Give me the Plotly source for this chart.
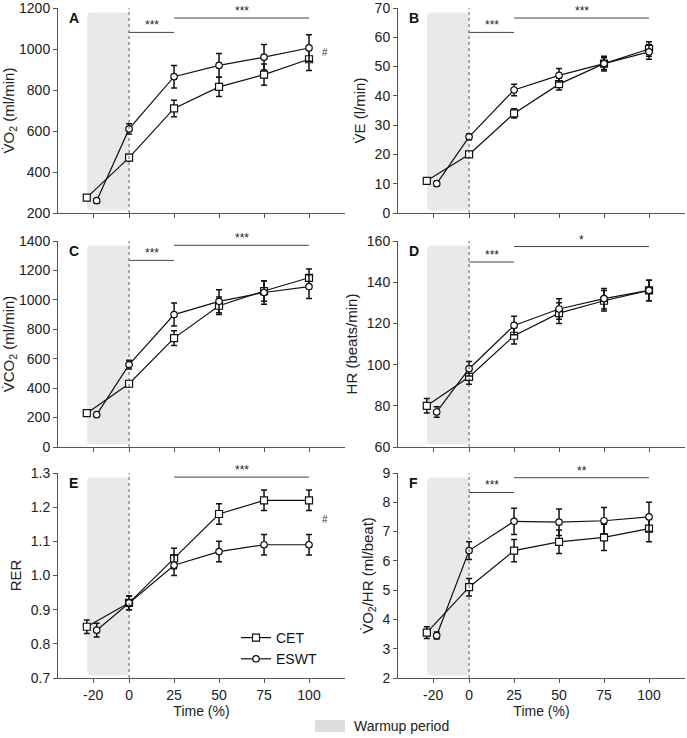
import plotly.graph_objects as go

# ---------------- data ----------------
x_cet = [-23.5, 0, 25, 50, 75, 100]
x_eswt = [-18, 0, 25, 50, 75, 100]
tick_vals = [-20, 0, 25, 50, 75, 100]
tick_text = ["-20", "0", "25", "50", "75", "100"]

vo2_cet = [275, 470, 710, 815, 875, 950]
vo2_cet_err = [12, 15, 40, 47, 52, 55]
vo2_eswt = [260, 610, 865, 920, 960, 1005]
vo2_eswt_err = [10, 25, 55, 58, 62, 65]

ve_cet = [11, 20, 34, 44, 51, 56]
ve_cet_err = [0.6, 0.8, 1.6, 2.0, 2.5, 2.5]
ve_eswt = [10, 26, 42, 47, 51, 55]
ve_eswt_err = [0.5, 1.0, 2.0, 2.3, 2.0, 2.5]

vco2_cet = [230, 430, 740, 960, 1060, 1150]
vco2_cet_err = [10, 20, 50, 60, 70, 60]
vco2_eswt = [220, 560, 900, 990, 1050, 1090]
vco2_eswt_err = [10, 30, 78, 78, 80, 80]

hr_cet = [80, 94, 114, 125, 131, 136]
hr_cet_err = [3.5, 3.5, 4.0, 5.0, 5.0, 5.0]
hr_eswt = [77, 98, 119, 127, 132, 136]
hr_eswt_err = [2.5, 3.5, 4.5, 5.0, 5.0, 5.0]

rer_cet = [0.85, 0.92, 1.05, 1.18, 1.22, 1.22]
rer_cet_err = [0.02, 0.02, 0.03, 0.03, 0.03, 0.03]
rer_eswt = [0.84, 0.92, 1.03, 1.07, 1.09, 1.09]
rer_eswt_err = [0.02, 0.02, 0.03, 0.03, 0.03, 0.03]

o2p_cet = [3.55, 5.1, 6.35, 6.65, 6.8, 7.1]
o2p_cet_err = [0.2, 0.3, 0.38, 0.4, 0.45, 0.45]
o2p_eswt = [3.45, 6.35, 7.35, 7.32, 7.37, 7.5]
o2p_eswt_err = [0.12, 0.3, 0.45, 0.45, 0.45, 0.5]

panel_letters = ["A", "B", "C", "D", "E", "F"]
y_titles = ["V\u0307O<sub>2</sub> (ml/min)", "V\u0307E (l/min)",
            "V\u0307CO<sub>2</sub> (ml/min)", "HR (beats/min)",
            "RER", "V\u0307O<sub>2</sub>/HR (ml/beat)"]
y_ranges = [(200, 1200), (0, 70), (0, 1400), (60, 160), (0.7, 1.3), (2, 9)]
y_dticks = [200, 10, 200, 20, 0.1, 1]
cet_series = [vo2_cet, ve_cet, vco2_cet, hr_cet, rer_cet, o2p_cet]
cet_errors = [vo2_cet_err, ve_cet_err, vco2_cet_err, hr_cet_err, rer_cet_err, o2p_cet_err]
eswt_series = [vo2_eswt, ve_eswt, vco2_eswt, hr_eswt, rer_eswt, o2p_eswt]
eswt_errors = [vo2_eswt_err, ve_eswt_err, vco2_eswt_err, hr_eswt_err, rer_eswt_err, o2p_eswt_err]
sig_short = ["***", "***", "***", "***", None, "***"]
sig_long = ["***", "***", "***", "*", "***", "**"]
sig_short_y = [0.881, 0.881, 0.906, 0.898, None, 0.905]
sig_long_y = [0.951, 0.951, 0.979, 0.973, 0.98, 0.977]
hash_marks = [(106, 985), None, None, None, (106, 1.165), None]

# ---------------- layout geometry ----------------
W, H = 687, 738
col_px = [(58, 345), (398, 685)]
row_px = [(8, 213), (241, 447), (473, 678)]
x_range = [-39.5, 120]
FONT = "Liberation Sans, Arial, sans-serif"
AX = "#555555"

fig = go.Figure()
layout = dict(width=W, height=H, margin=dict(l=0, r=0, t=0, b=0, autoexpand=False),
              paper_bgcolor="white", plot_bgcolor="white",
              font=dict(family=FONT, size=14, color="#222"),
              shapes=[], annotations=[])


def rounded_path(x0, x1, y0, y1, rx, ry):
    return (f"M {x0+rx},{y0} L {x1-rx},{y0} Q {x1},{y0} {x1},{y0+ry} "
            f"L {x1},{y1-ry} Q {x1},{y1} {x1-rx},{y1} L {x0+rx},{y1} "
            f"Q {x0},{y1} {x0},{y1-ry} L {x0},{y0+ry} Q {x0},{y0} {x0+rx},{y0} Z")


for i in range(6):
    r, c = divmod(i, 2)
    n = i + 1
    xa = "xaxis" if n == 1 else f"xaxis{n}"
    ya = "yaxis" if n == 1 else f"yaxis{n}"
    xr = "x" if n == 1 else f"x{n}"
    yr = "y" if n == 1 else f"y{n}"
    cx0, cx1 = col_px[c]
    ry0, ry1 = row_px[r]
    bottom = r == 2
    xdef = dict(domain=[cx0 / W, cx1 / W], anchor=yr, range=x_range,
                tickvals=tick_vals, ticktext=tick_text, automargin=False,
                ticklabeloverflow="allow",
                showticklabels=bottom, showline=True, linecolor=AX,
                linewidth=1, ticks="outside", ticklen=4, tickcolor=AX,
                showgrid=False, zeroline=False,
                tickfont=dict(size=14, color="#222"))
    if bottom:
        xdef["title"] = dict(text="Time (%)", font=dict(size=14), standoff=3)
    layout[xa] = xdef
    ylo, yhi = y_ranges[i]
    layout[ya] = dict(domain=[1 - ry1 / H, 1 - ry0 / H], anchor=xr,
                      range=[ylo, yhi], dtick=y_dticks[i], tick0=ylo,
                      automargin=False, ticklabeloverflow="allow",
                      showline=True, linecolor=AX, linewidth=1,
                      ticks="outside", ticklen=4, tickcolor=AX,
                      showgrid=False, zeroline=False,
                      tickformat=".1f" if i == 4 else "d",
                      tickfont=dict(size=14, color="#222"),
                      title=dict(text=y_titles[i], font=dict(size=15), standoff=5))

    span = yhi - ylo
    layout["shapes"].append(dict(
        type="path", xref=xr, yref=yr, layer="below", line=dict(width=0),
        fillcolor="#e9e9e9",
        path=rounded_path(-23.3, 0, ylo + 0.012 * span, ylo + 0.978 * span,
                          2.2, 0.02 * span)))
    layout["shapes"].append(dict(type="line", xref=xr, yref=f"{yr} domain",
                                 x0=0, x1=0, y0=0, y1=1,
                                 line=dict(color="#333", width=0.8, dash="dot")))
    if sig_short[i]:
        yy = sig_short_y[i]
        layout["shapes"].append(dict(type="line", xref=xr, yref=f"{yr} domain",
                                     x0=0, x1=25, y0=yy, y1=yy,
                                     line=dict(color="#444", width=1)))
        layout["annotations"].append(dict(x=12.5, y=yy, xref=xr, yref=f"{yr} domain",
                                          text=sig_short[i], showarrow=False,
                                          yanchor="bottom", yshift=-2,
                                          font=dict(size=12, color="#222")))
    yy = sig_long_y[i]
    layout["shapes"].append(dict(type="line", xref=xr, yref=f"{yr} domain",
                                 x0=25, x1=100, y0=yy, y1=yy,
                                 line=dict(color="#444", width=1)))
    layout["annotations"].append(dict(x=62.5, y=yy, xref=xr, yref=f"{yr} domain",
                                      text=sig_long[i], showarrow=False,
                                      yanchor="bottom", yshift=-2,
                                      font=dict(size=12, color="#222")))
    layout["annotations"].append(dict(x=0.033, y=1.0, xref=f"{xr} domain",
                                      yref=f"{yr} domain", text=f"<b>{panel_letters[i]}</b>",
                                      showarrow=False, xanchor="left", yanchor="top",
                                      font=dict(size=14, color="#111")))
    if hash_marks[i]:
        hx, hy = hash_marks[i]
        layout["annotations"].append(dict(x=hx, y=hy, xref=xr, yref=yr, text="#",
                                          showarrow=False, xanchor="left",
                                          font=dict(size=10, color="#333")))

    fig.add_trace(go.Scatter(
        x=x_cet, y=cet_series[i], xaxis=xr, yaxis=yr, name="CET",
        mode="lines+markers", showlegend=(i == 4), legendrank=1,
        line=dict(color="#111", width=1.2),
        marker=dict(symbol="square", size=7, color="white",
                    line=dict(color="#111", width=1.2)),
        error_y=dict(type="data", array=cet_errors[i], color="#111",
                     thickness=1.5, width=3)))
    fig.add_trace(go.Scatter(
        x=x_eswt, y=eswt_series[i], xaxis=xr, yaxis=yr, name="ESWT",
        mode="lines+markers", showlegend=(i == 4), legendrank=2,
        line=dict(color="#111", width=1.2),
        marker=dict(symbol="circle", size=6.5, color="white",
                    line=dict(color="#111", width=1.2)),
        error_y=dict(type="data", array=eswt_errors[i], color="#111",
                     thickness=1.5, width=3)))

layout["legend"] = dict(x=236 / W, y=1 - 622 / H, xanchor="left", yanchor="top",
                        bgcolor="rgba(0,0,0,0)", font=dict(size=14, color="#111"),
                        tracegroupgap=0, itemwidth=30)

layout["shapes"].append(dict(type="rect", xref="paper", yref="paper",
                             x0=315 / W, x1=345 / W, y0=1 - 732 / H, y1=1 - 720 / H,
                             fillcolor="#dddddd", line=dict(width=0)))
layout["annotations"].append(dict(x=352 / W, y=1 - 726 / H, xref="paper", yref="paper",
                                  text="Warmup period", showarrow=False,
                                  xanchor="left", yanchor="middle",
                                  font=dict(size=14, color="#222")))

fig.update_layout(**layout)
fig.write_html("out.html", config={"displayModeBar": False},
               post_script="document.body.style.margin='0';document.body.style.overflow='hidden';")
